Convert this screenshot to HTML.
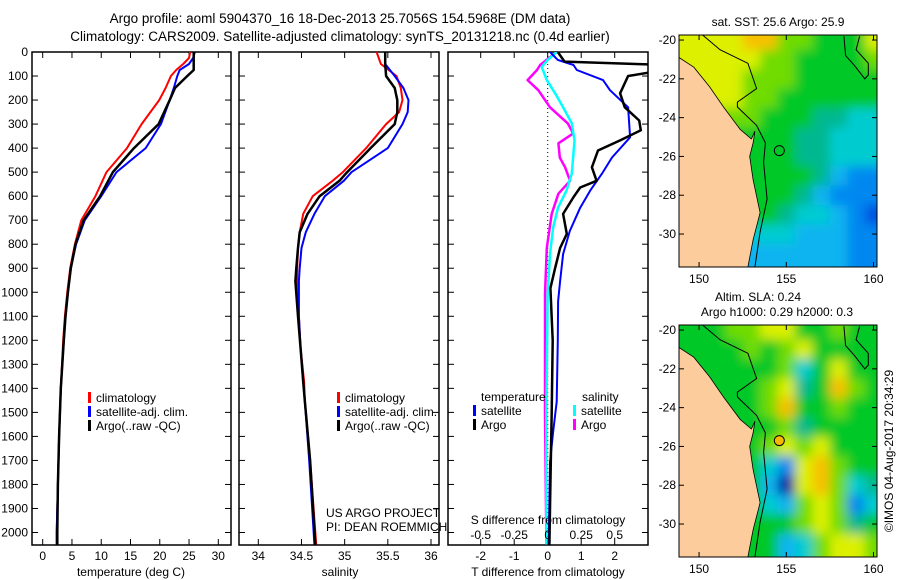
<!DOCTYPE html>
<html><head><meta charset="utf-8"><style>
body{margin:0;background:#fff;}
svg{display:block;font-family:"Liberation Sans",sans-serif;}
</style></head><body>
<svg id="fig" width="900" height="580" viewBox="0 0 900 580" xmlns="http://www.w3.org/2000/svg">
<defs>
<clipPath id="cp3"><rect x="448" y="52" width="200" height="493"/></clipPath>
<clipPath id="cm1"><rect x="679" y="35" width="198" height="232"/></clipPath>
<clipPath id="cm2"><rect x="679" y="325" width="198" height="232"/></clipPath>
<filter id="blur" x="-5%" y="-5%" width="110%" height="110%"><feGaussianBlur stdDeviation="5.5"/></filter>
</defs>
<text x="340" y="23" text-anchor="middle" font-size="13.5">Argo profile: aoml 5904370_16 18-Dec-2013 25.7056S 154.5968E (DM data)</text>
<text x="340" y="41" text-anchor="middle" font-size="13.5">Climatology: CARS2009. Satellite-adjusted climatology: synTS_20131218.nc (0.4d earlier)</text>
<g id="g"></g>
</svg>
<script>
// ---- data ----
const tDepths = [0,25,50,75,100,150,200,300,400,500,600,700,800,900,1000,1100,1200,1400,1600,1800,2000,2050];
const tClim = [25.2,25.0,24.0,22.8,21.9,21.0,19.9,16.9,14.4,10.9,9.0,6.6,5.5,4.7,4.2,3.8,3.5,3.1,2.8,2.6,2.4,2.4];
const tSat = [26.0,25.7,25.0,23.4,23.0,22.4,21.7,20.2,17.6,12.6,10.0,7.2,5.7,4.8,4.3,3.9,3.6,3.1,2.8,2.6,2.4,2.4];
const tArgo = [25.8,25.8,25.8,25.8,24.7,22.6,21.7,19.8,15.6,12.0,9.8,7.0,5.6,4.8,4.3,3.9,3.6,3.1,2.8,2.6,2.5,2.5];
const sDepths = [0,50,100,150,200,250,300,400,500,536,600,674,750,816,900,954,1100,1234,1372,1456,1700,2050];
const sClim = [35.37,35.42,35.6,35.65,35.67,35.63,35.48,35.25,34.98,34.86,34.63,34.52,34.48,34.46,34.45,34.45,34.47,34.49,34.53,34.54,34.6,34.67];
const sSat = [35.47,35.47,35.58,35.68,35.74,35.73,35.67,35.5,35.08,34.99,34.77,34.65,34.55,34.5,34.48,34.47,34.47,34.49,34.52,34.54,34.59,34.65];
const sArgo = [35.47,35.47,35.48,35.58,35.61,35.61,35.58,35.3,35.03,34.94,34.71,34.57,34.48,34.46,34.44,34.43,34.46,34.49,34.52,34.54,34.6,34.66];
const dTArgoDepths = [0,40,54,75,100,172,230,285,326,368,410,480,536,564,606,674,757,816,900,983,1200,1500,1800,2050];
const dTArgo = [0.3,0.5,3.5,3.5,2.4,2.16,2.3,2.73,2.78,2.16,1.5,1.32,1.46,0.97,0.76,0.46,0.57,0.37,0.22,0.08,0.15,0.12,0.08,0.05];
const dTSatDepths = [0,33,54,75,117,159,230,355,439,506,577,648,745,841,954,1038,1200,1456,1582,1707,2050];
const dTSat = [0.07,0.3,0.77,0.87,1.65,1.86,2.4,2.46,1.92,1.62,1.27,0.97,0.66,0.46,0.37,0.31,0.3,0.27,0.16,0.07,0.03];
const dSSatDepths = [0,33,62,117,172,230,297,368,506,577,648,732,841,1008,1500,2050];
const dSSat = [0.067,0.0,-0.045,-0.007,0.055,0.115,0.18,0.2,0.18,0.14,0.077,0.04,0.017,0,-0.01,-0.01];
const dSArgoDepths = [0,54,75,117,159,230,297,339,380,439,480,536,590,674,816,1008,1500,2050];
const dSArgo = [0.067,-0.057,-0.08,-0.15,-0.07,0.017,0.15,0.19,0.08,0.09,0.13,0.167,0.08,0.03,-0.007,-0.02,-0.02,-0.01];
const depthTicks = [0,100,200,300,400,500,600,700,800,900,1000,1100,1200,1300,1400,1500,1600,1700,1800,1900,2000];
const tTicks = [0,5,10,15,20,25,30];
const sTicks = [34,34.5,35,35.5,36];
const dTTicks = [-2,-1,0,1,2];
const dSTicks = [-0.5,-0.25,0,0.25,0.5];
const lonTicks = [150,155,160];
const latTicks = [-20,-22,-24,-26,-28,-30];
// map grids: rows = lat -20..-31 (1 deg), cols = lon 149..160 (1 deg); value classes 0-9
const sstGrid = [
"888899776668","888887766667","888877766666","888877666666","777776665544","666666655444",
"666666655444","555566665322","444466653222","222266544321","222244433322","222233333322"];
const slaGrid = [
"666778866766","666676786666","666666746866","666667856976","666667966766","666666756666",
"666667878666","666664289766","666663089745","666664378724","666666678756","666666347887"];
const palette = ["#0018a0","#0050e0","#0088f0","#10b4f0","#00ccd0","#00b890","#00c828","#70dc00","#dcf000","#f8c000"];
const landPoly = [[148.85,-20.9],[149.7,-21.4],[150.6,-22.4],[151.4,-23.45],[152.35,-24.6],[153.0,-25.1],[153.2,-24.7],[153.1,-25.3],[152.9,-26.0],[153.1,-27.2],[153.5,-28.9],[153.1,-30.3],[152.8,-31.7],[148.85,-31.7]];
const isoWest = [[150.2,-19.74],[151.2,-20.5],[152.8,-21.2],[153.3,-22.5],[152.2,-23.2],[152.2,-23.45],[153.3,-24.4],[153.8,-25.3],[153.7,-26.3],[153.9,-28.2],[153.5,-29.9],[153.2,-31.7]];
const isoEast = [[158.3,-19.8],[158.4,-20.8],[158.9,-21.3],[159.5,-22.0],[159.7,-21.8],[159.7,-21.2],[159.0,-20.5],[159.2,-19.8]];
const argoPos = [154.6,-25.7];

// ---- helpers ----
const NS="http://www.w3.org/2000/svg";
const G=document.getElementById('g');
function el(tag,attrs,parent){const e=document.createElementNS(NS,tag);for(const k in attrs)e.setAttribute(k,attrs[k]);(parent||G).appendChild(e);return e;}
function txt(x,y,s,attrs){const e=el('text',Object.assign({x:x,y:y,'font-size':12},attrs||{}));e.textContent=s;return e;}
const TOP=52,BOT=545;
const yD=d=>TOP+(d/2052)*(BOT-TOP);
function lin(d0,d1,p0,p1){return v=>p0+(v-d0)/(d1-d0)*(p1-p0);}
const xT=lin(0,30,42.7,218.3);
const xS=lin(34,36,258.3,431);
const xDT=lin(0,1,547.7,581.2);
const xDS=v=>xDT(v*4);

function panel(x0,x1,name){
  const r=el('rect',{x:x0,y:TOP,width:x1-x0,height:BOT-TOP,fill:'none',stroke:'#000','stroke-width':1.5});
  
  
  depthTicks.forEach(d=>{
    el('line',{x1:x0,x2:x0+6,y1:yD(d),y2:yD(d),stroke:'#000'});
    el('line',{x1:x1-6,x2:x1,y1:yD(d),y2:yD(d),stroke:'#000'});
  });
}
function xticks(ticks,fx,labels){
  ticks.forEach((t,i)=>{
    const x=fx(t);
    el('line',{x1:x,x2:x,y1:TOP,y2:TOP+6,stroke:'#000'});
    el('line',{x1:x,x2:x,y1:BOT-6,y2:BOT,stroke:'#000'});
    if(labels){const l=txt(x,560,labels[i],{'text-anchor':'middle'});
      
      }
  });
}
function series(depths,vals,fx,color,w,name,clip){
  const pts=depths.map((d,i)=>fx(vals[i]).toFixed(1)+','+yD(d).toFixed(1)).join(' ');
  const a={points:pts,fill:'none',stroke:color,'stroke-width':w,'stroke-linejoin':'round'};
  if(clip)a['clip-path']='url(#'+clip+')';
  const p=el('polyline',a);
  
  
}
function legendItem(x,y,color,label,name){
  el('rect',{x:x,y:y-10,width:3,height:11,fill:color});
  const t=txt(x+8,y,label);
  
  
}

depthTicks.forEach(d=>{const t=txt(28,yD(d)+4,String(d),{'text-anchor':'end'});
  
  });

// panel 1 temperature
panel(32,231,'temperature-panel');
xticks(tTicks,xT,tTicks.map(String));
series(tDepths,tClim,xT,'#f00',2,'temp-climatology-line');
series(tDepths,tSat,xT,'#00f',2,'temp-satellite-line');
series(tDepths,tArgo,xT,'#000',2.5,'temp-argo-line');
legendItem(88,402,'#f00','climatology','legend-climatology');
legendItem(88,416,'#00f','satellite-adj. clim.','legend-satellite-adj');
legendItem(88,430,'#000','Argo(..raw -QC)','legend-argo');
let t1=txt(131,576,'temperature (deg C)',{'text-anchor':'middle'});



// panel 2 salinity
panel(239,439,'salinity-panel');
xticks(sTicks,xS,['34','34.5','35','35.5','36']);
series(sDepths,sClim,xS,'#f00',2,'sal-climatology-line');
series(sDepths,sSat,xS,'#00f',2,'sal-satellite-line');
series(sDepths,sArgo,xS,'#000',2.5,'sal-argo-line');
legendItem(337,402,'#f00','climatology','legend-climatology-2');
legendItem(337,416,'#00f','satellite-adj. clim.','legend-satellite-adj-2');
legendItem(337,430,'#000','Argo(..raw -QC)','legend-argo-2');
let t2=txt(326,517,'US ARGO PROJECT');
let t3=txt(326,531,'PI: DEAN ROEMMICH');
let t4=txt(340,576,'salinity',{'text-anchor':'middle'});



// panel 3 differences
panel(448,648,'difference-panel');
el('line',{x1:547.7,x2:547.7,y1:TOP,y2:BOT,stroke:'#000','stroke-dasharray':'1,3'});
xticks(dTTicks,xDT,dTTicks.map(String));
series(dSArgoDepths,dSArgo,xDS,'#f0f',2.5,'sal-diff-argo-line','cp3');
series(dSSatDepths,dSSat,xDS,'#0ff',2.5,'sal-diff-satellite-line','cp3');
series(dTSatDepths,dTSat,xDT,'#00f',2,'temp-diff-satellite-line','cp3');
series(dTArgoDepths,dTArgo,xDT,'#000',2.5,'temp-diff-argo-line','cp3');
let t5=txt(481,401,'temperature');
legendItem(473,415,'#00f','satellite','legend-temp-satellite');
legendItem(473,429,'#000','Argo','legend-temp-argo');
let t6=txt(582,401,'salinity');
legendItem(573,415,'#0ff','satellite','legend-sal-satellite');
legendItem(573,429,'#f0f','Argo','legend-sal-argo');
let t7=txt(548,524,'S difference from climatology',{'text-anchor':'middle'});

dSTicks.forEach(s=>{const l=txt(xDS(s),539,String(s),{'text-anchor':'middle'});
  });
let t8=txt(548,576,'T difference from climatology',{'text-anchor':'middle'});


// maps
const LON0=148.85,LON1=160.2,LAT0=-19.74,LAT1=-31.7;
const GRID_LON0=149, GRID_LAT0=-20;
function map(y0,grid,clip,name,filledCircle){
  const X=lin(LON0,LON1,679,877),Y=lin(LAT0,LAT1,y0,y0+232);
  const g=el('g',{'clip-path':'url(#'+clip+')'});
  
  
  const hg=el('g',{filter:'url(#blur)'},g);
  const nr=grid.length,nc=grid[0].length;
  grid.forEach((row,ri)=>{for(let ci=0;ci<nc;ci++){
    let lonW=GRID_LON0+ci-0.5, lonE=GRID_LON0+ci+0.5;
    let latN=GRID_LAT0-ri+0.5, latS=GRID_LAT0-ri-0.5;
    if(ci===0)lonW-=1.5; if(ci===nc-1)lonE+=1.5;
    if(ri===0)latN+=1.5; if(ri===nr-1)latS-=1.5;
    const c=el('rect',{x:X(lonW).toFixed(1),y:Y(latN).toFixed(1),width:(X(lonE)-X(lonW)+0.5).toFixed(1),height:(Y(latS)-Y(latN)+0.5).toFixed(1),fill:palette[+row[ci]]},hg);
    
    
  }});
  const land=el('polygon',{points:landPoly.map(p=>X(p[0]).toFixed(1)+','+Y(p[1]).toFixed(1)).join(' '),fill:'#fccc9c',stroke:'#000','stroke-width':0.8},g);
  
  
  [isoWest,isoEast].forEach(line=>{const p=el('polyline',{points:line.map(p=>X(p[0]).toFixed(1)+','+Y(p[1]).toFixed(1)).join(' '),fill:'none',stroke:'#000','stroke-width':1},g);
    
    });
  const c=el('circle',{cx:X(argoPos[0]),cy:Y(argoPos[1]),r:5,fill:filledCircle?'#f8b800':'none',stroke:'#000','stroke-width':1},g);
  
  
  el('rect',{x:679,y:y0,width:198,height:232,fill:'none',stroke:'#000'});
  lonTicks.forEach(l=>{el('line',{x1:X(l),x2:X(l),y1:y0,y2:y0+5,stroke:'#000'});el('line',{x1:X(l),x2:X(l),y1:y0+227,y2:y0+232,stroke:'#000'});
    const t=txt(X(l),y0+248,String(l),{'text-anchor':'middle'});});
  latTicks.forEach(l=>{el('line',{x1:679,x2:684,y1:Y(l),y2:Y(l),stroke:'#000'});el('line',{x1:872,x2:877,y1:Y(l),y2:Y(l),stroke:'#000'});
    const t=txt(676,Y(l)+4,String(l),{'text-anchor':'end'});});
}
map(35,sstGrid,'cm1','sst-map',false);
map(325,slaGrid,'cm2','sla-map',true);
let m1=txt(778,26,'sat. SST: 25.6 Argo: 25.9',{'text-anchor':'middle'});
let m2=txt(758,301,'Altim. SLA: 0.24',{'text-anchor':'middle'});
let m3=txt(777,316,'Argo h1000: 0.29 h2000: 0.3',{'text-anchor':'middle'});
let m4=txt(0,0,'©IMOS 04-Aug-2017 20:34:29',{'text-anchor':'middle',transform:'translate(893,451) rotate(-90)'});

</script>
</body></html>
